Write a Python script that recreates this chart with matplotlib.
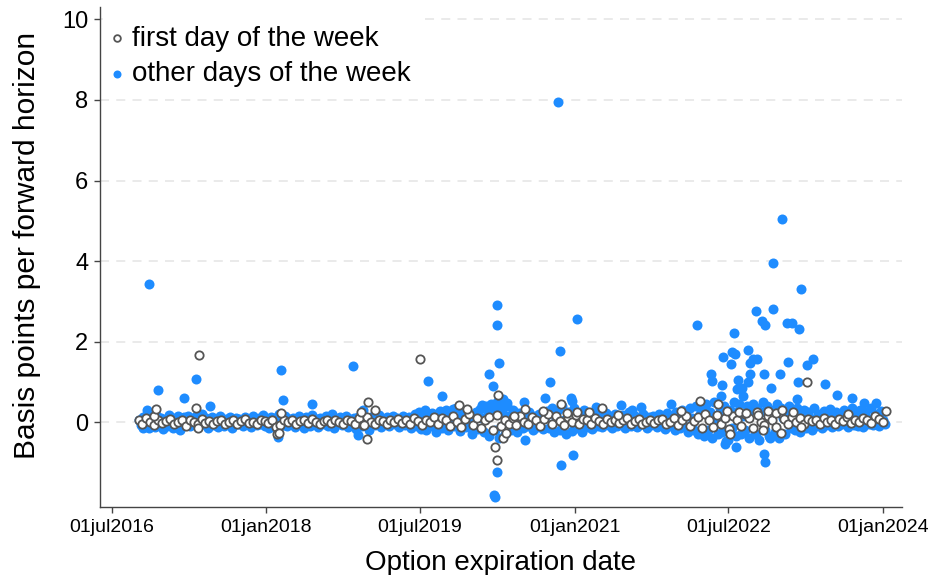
import numpy as np
import pandas as pd
import matplotlib
matplotlib.use('Agg')
import matplotlib.pyplot as plt

# first day of the week, every second week starting here
first_start = '2016-10-03'
first_vals = [
    0.05, -0.05, 0.1, 0.0, -0.08, 0.06, -0.03, 0.02, 0.08, -0.06, 0.0, 0.04, -0.1, 0.05, 0.0, -0.04, 0.07, -0.02, 0.03,
    -0.05, 0.02, 0.06, -0.04, 0.0, 0.05, -0.06, 0.03, 0.08, -0.02, 0.0, -0.05, 0.06, 0.02, -0.03, 0.04, -0.12, -0.08, 0.05,
    0.0, 0.06, -0.04, 0.02, 0.05, -0.03, 0.08, 0.0, -0.05, 0.03, 0.06, -0.02, 0.04, 0.0, -0.06, 0.05, 0.02, -0.04, 0.1,
    -0.08, 0.12, 0.0, -0.04, 0.06, 0.02, -0.05, 0.04, 0.0, 0.08, -0.03, 0.05, -0.06, 0.1, 0.02, -0.08, 0.06, 0.0, 0.12,
    -0.05, 0.1, 0.04, -0.1, 0.15, 0.0, -0.12, 0.08, 0.2, -0.08, 0.1, -0.15, 0.05, 0.12, -0.2, 0.18, -0.1, 0.05, -0.06,
    0.1, -0.08, 0.15, 0.0, -0.05, 0.12, 0.05, -0.1, 0.08, 0.2, -0.06, 0.15, 0.02, -0.08, 0.12, 0.0, 0.18, -0.05, 0.08,
    0.05, -0.04, 0.1, 0.02, -0.06, 0.08, 0.0, 0.06, -0.03, 0.05, 0.1, -0.05, 0.02, 0.07, -0.04, 0.0, 0.06, -0.02, 0.04,
    0.08, -0.05, 0.0, 0.1, -0.08, 0.05, 0.15, -0.1, 0.02, 0.12, -0.15, 0.2, 0.05, -0.12, 0.18, -0.05, 0.1, -0.18, 0.15,
    0.05, -0.1, 0.2, 0.1, -0.15, 0.25, 0.0, -0.08, 0.15, 0.05, -0.12, 0.22, 0.08, -0.05, 0.12, 0.0, 0.1, -0.06, 0.08,
    0.02, 0.06, -0.04, 0.1, 0.0, 0.05, -0.05, 0.08, 0.02, 0.12, -0.03, 0.06, 0.0, 0.1, 0.04, -0.02, 0.15, 0.08, 0.0,
]
first_extra_dates = [
    '2016-11-27', '2016-12-04', '2017-04-26', '2017-05-06', '2017-05-01', '2018-02-09', '2018-02-16', '2018-02-20',
    '2018-12-03', '2018-12-14', '2018-12-25', '2018-12-28', '2019-01-22', '2019-07-01', '2019-11-17', '2019-12-15',
    '2020-04-03', '2020-03-24', '2020-03-31', '2020-04-21', '2020-05-02', '2020-05-29', '2020-07-07', '2020-09-09',
    '2020-11-12', '2020-12-04', '2021-01-08', '2021-02-20', '2021-04-07', '2021-06-03', '2022-01-15', '2022-03-23',
    '2022-05-26', '2022-06-27', '2022-07-08', '2022-08-09', '2022-09-03', '2022-10-16', '2022-11-02', '2022-11-20',
    '2022-12-19', '2023-01-05', '2023-01-09', '2023-02-17', '2023-03-17', '2023-04-08', '2023-08-31', '2024-01-14',
]
first_extra_vals = [
    0.15, 0.32, 0.35, 1.67, -0.15, -0.30, -0.27, 0.22,
    0.25, -0.07, -0.42, 0.50, 0.30, 1.57, 0.42, 0.32,
    0.67, -0.62, -0.95, -0.40, -0.27, 0.15, 0.32, 0.27,
    0.45, 0.22, 0.25, 0.25, 0.35, 0.17, 0.27, 0.52,
    0.45, 0.27, -0.30, 0.25, 0.22, 0.17, -0.20, 0.27,
    0.22, -0.27, 0.30, 0.25, -0.12, 1.00, 0.20, 0.27,
]

# other days of the week, one point per week starting here
other_start = '2016-10-05'
other_vals = [
    0.05, -0.08, 0.12, -0.1, 0.2, -0.15, 0.08, 0.0, -0.12, 0.15, -0.05, 0.1, -0.18, 0.06, -0.1, 0.18, 0.02, -0.14, 0.1, -0.06, 0.14, -0.2, 0.04, 0.12, -0.08, 0.16,
    -0.1, 0.08, -0.04, 0.14, -0.12, 0.05, 0.2, -0.06, 0.1, -0.15, 0.03, 0.12, -0.08, 0.06, -0.12, 0.15, 0.0, -0.1, 0.08, -0.05, 0.12, -0.14, 0.04, 0.1, -0.06, 0.07,
    0.02, -0.1, 0.12, -0.06, 0.08, -0.12, 0.15, 0.0, -0.08, 0.1, -0.04, 0.18, -0.1, 0.06, -0.14, 0.12, -0.02, 0.09, -0.16, 0.2, 0.05, -0.08, 0.14, -0.1, 0.07, -0.05,
    0.1, -0.12, 0.05, 0.15, -0.08, 0.02, -0.15, 0.12, 0.06, -0.1, 0.18, -0.04, 0.08, -0.12, 0.1, 0.0, -0.06, 0.14, -0.1, 0.05, 0.2, -0.14, 0.08, -0.02, 0.12, -0.08,
    0.04, 0.15, -0.12, 0.08, -0.06, 0.1, -0.18, 0.12, 0.0, -0.1, 0.16, -0.04, 0.1, -0.2, 0.06, 0.14, -0.08, 0.02, 0.18, -0.12, 0.08, -0.05, 0.12, -0.1, 0.04, 0.15,
    -0.06, 0.1, -0.12, 0.05, 0.14, -0.08, 0.02, 0.12, -0.15, 0.08, 0.2, -0.1, 0.25, -0.18, 0.1, 0.3, -0.2, 0.15, -0.1, 0.22, 0.05, -0.25, 0.18, 0.28, -0.15, 0.1,
    0.3, -0.2, 0.12, 0.25, -0.1, 0.35, 0.05, -0.22, 0.18, 0.28, -0.12, 0.2, 0.0, -0.3, 0.15, 0.25, -0.18, 0.32, 0.1, -0.25, 0.4, 0.2, -0.35, 0.45, 0.3, -0.2,
    0.5, -0.4, 0.35, 0.2, -0.3, 0.4, 0.15, -0.2, 0.3, 0.1, -0.25, 0.22, 0.05, -0.15, 0.18, -0.1, 0.25, 0.08, -0.2, 0.15, -0.12, 0.2, 0.05, -0.18, 0.12, 0.28,
    -0.15, 0.22, 0.35, -0.25, 0.1, 0.3, -0.2, 0.4, 0.05, -0.3, 0.25, 0.15, -0.22, 0.35, 0.1, -0.15, 0.2, -0.25, 0.3, 0.08, -0.12, 0.22, -0.18, 0.15, 0.05, -0.1,
    0.18, -0.12, 0.1, 0.22, -0.08, 0.15, -0.15, 0.05, 0.2, -0.1, 0.12, -0.05, 0.18, -0.14, 0.08, 0.25, -0.1, 0.02, 0.15, -0.12, 0.1, -0.06, 0.2, 0.04, -0.15, 0.12,
    -0.08, 0.15, 0.05, -0.12, 0.2, -0.05, 0.1, -0.18, 0.22, 0.08, -0.1, 0.15, -0.2, 0.25, 0.05, -0.15, 0.3, -0.1, 0.2, -0.25, 0.35, 0.1, -0.2, 0.4, -0.3, 0.2,
    0.3, -0.35, 0.45, -0.2, 0.25, -0.4, 0.5, 0.1, -0.3, 0.35, -0.25, 0.4, 0.2, -0.45, 0.3, -0.15, 0.5, -0.35, 0.25, 0.45, -0.3, 0.15, -0.2, 0.4, -0.4, 0.3,
    0.45, -0.3, 0.35, -0.45, 0.25, 0.5, -0.2, 0.4, -0.35, 0.3, 0.2, -0.25, 0.45, -0.4, 0.35, 0.1, -0.3, 0.25, 0.4, -0.15, 0.3, -0.2, 0.35, 0.15, -0.25, 0.2,
    0.3, -0.15, 0.25, 0.1, -0.2, 0.35, -0.1, 0.2, 0.05, -0.15, 0.28, -0.08, 0.15, 0.32, -0.12, 0.1, 0.25, -0.1, 0.18, -0.05, 0.3, 0.08, -0.12, 0.2, 0.35, -0.08,
    0.15, -0.1, 0.3, 0.05, -0.12, 0.25, 0.1, -0.05, 0.35, -0.08, 0.2, 0.12, -0.1, 0.28, 0.05, -0.06,
]
other_extra_dates = [
    '2016-11-09', '2016-11-02', '2016-12-11', '2016-10-20', '2017-03-14', '2017-04-26', '2017-06-14', '2018-02-20',
    '2018-02-27', '2018-02-12', '2018-06-13', '2018-11-05', '2018-11-22', '2018-12-10', '2019-07-29', '2019-09-17',
    '2019-10-26', '2020-02-06', '2020-03-02', '2020-03-16', '2020-03-31', '2020-03-30', '2020-04-07', '2020-04-21',
    '2020-05-05', '2020-03-31', '2020-03-20', '2020-03-24', '2020-07-04', '2020-07-07', '2020-09-16', '2020-10-04',
    '2020-11-02', '2020-11-09', '2020-11-12', '2020-12-18', '2020-12-21', '2020-12-25', '2021-01-08', '2021-03-17',
    '2021-06-16', '2021-07-25', '2021-08-26', '2021-12-10', '2022-03-13', '2022-05-02', '2022-05-03', '2022-06-06',
    '2022-06-10', '2022-06-12', '2022-06-20', '2022-06-24', '2022-07-12', '2022-07-13', '2022-07-26', '2022-07-22',
    '2022-07-29', '2022-08-02', '2022-08-06', '2022-08-20', '2022-08-23', '2022-09-10', '2022-09-09', '2022-09-17',
    '2022-09-18', '2022-09-28', '2022-10-12', '2022-10-09', '2022-10-09', '2022-10-30', '2022-11-09', '2022-11-06',
    '2022-11-06', '2022-11-09', '2022-11-27', '2022-12-01', '2022-12-08', '2022-12-08', '2023-01-02', '2023-01-09',
    '2023-01-27', '2023-01-30', '2023-02-13', '2023-03-03', '2023-03-07', '2023-03-10', '2023-03-17', '2023-04-08',
    '2023-04-29', '2023-06-11', '2023-07-23', '2023-09-15', '2023-10-28', '2023-12-09',
]
other_extra_vals = [
    3.42, 0.30, 0.80, -0.15, 0.60, 1.07, 0.40, 1.30,
    0.55, -0.37, 0.45, 1.40, -0.32, 0.30, 1.02, 0.65,
    0.32, 0.42, 1.20, 0.90, 2.92, 2.42, 1.47, 0.57,
    0.47, -1.25, -1.80, -1.85, 0.50, -0.45, 0.60, 1.00,
    7.95, 1.77, -1.07, 0.60, 0.52, -0.82, 2.55, 0.37,
    0.42, 0.30, 0.37, 0.45, 2.42, 1.20, 1.02, 0.65,
    0.92, 1.62, -0.55, -0.47, 1.45, 1.75, 1.70, 2.20,
    -0.62, 0.82, 1.05, 0.85, 0.65, 1.80, 1.00, 1.47,
    1.20, 1.57, 1.57, 2.75, -0.30, 2.50, 2.40, 1.20,
    -0.80, -1.00, -0.40, 0.85, 3.95, 2.80, 1.20, 5.05,
    2.45, 1.50, 2.47, 0.57, 1.00, 2.30, 3.30, 1.42,
    1.57, 0.95, 0.67, 0.60, 0.47, 0.47,
]

tick_dates = ['2016-07-01', '2018-01-01', '2019-07-01', '2021-01-01', '2022-07-01', '2024-01-01']
tick_labels = ['01jul2016', '01jan2018', '01jul2019', '01jan2021', '01jul2022', '01jan2024']

first_x = list(pd.date_range(first_start, periods=len(first_vals), freq='14D')) + list(pd.to_datetime(first_extra_dates))
first_y = first_vals + first_extra_vals
other_x = list(pd.date_range(other_start, periods=len(other_vals), freq='7D')) + list(pd.to_datetime(other_extra_dates))
other_y = other_vals + other_extra_vals

plt.rcParams['font.family'] = ['Liberation Sans', 'DejaVu Sans']

fig = plt.figure(figsize=(9.32, 5.75), dpi=100)
ax = fig.add_axes([100 / 932, 1 - 507 / 575, 802 / 932, 500 / 575])

ax.scatter(other_x, other_y, s=52, color='#1e8cff', linewidths=0, zorder=3, label='other days of the week')
ax.scatter(first_x, first_y, s=36, facecolor='white', edgecolor='#555555', linewidths=1.3, zorder=4,
           label='first day of the week')

ax.set_xlim(pd.Timestamp('2016-05-19'), pd.Timestamp('2024-03-10'))
ax.set_ylim(-2.11, 10.31)
ax.set_yticks([0, 2, 4, 6, 8, 10])
ax.set_xticks(pd.to_datetime(tick_dates))
ax.set_xticklabels(tick_labels)

ax.yaxis.grid(True, color='#e8e8e8', linestyle=(0, (5, 4)), linewidth=1.3)
ax.set_axisbelow(True)
for side in ['top', 'right']:
    ax.spines[side].set_visible(False)
for side in ['left', 'bottom']:
    ax.spines[side].set_color('#444444')
    ax.spines[side].set_linewidth(1.0)
ax.tick_params(axis='y', labelsize=17, length=4.5, width=1.0, color='#444444', pad=4)
ax.tick_params(axis='x', labelsize=14, length=4.5, width=1.0, color='#444444', pad=4)

ax.set_xlabel('Option expiration date', fontsize=20, labelpad=10)
ax.set_ylabel('Basis points per forward horizon', fontsize=21.5)
ax.yaxis.set_label_coords(-0.074, 0.524)

handles, labels = ax.get_legend_handles_labels()
leg = ax.legend(handles[::-1], labels[::-1], loc='upper left', bbox_to_anchor=(0.0, 0.985), fontsize=20,
                frameon=True, fancybox=False, framealpha=1, edgecolor='white', facecolor='white',
                markerscale=0.8, handlelength=0.4, handletextpad=0.35, borderpad=0.3, labelspacing=0.35,
                borderaxespad=0.1)
leg.set_zorder(5)

fig.savefig('out.png', dpi=100)
